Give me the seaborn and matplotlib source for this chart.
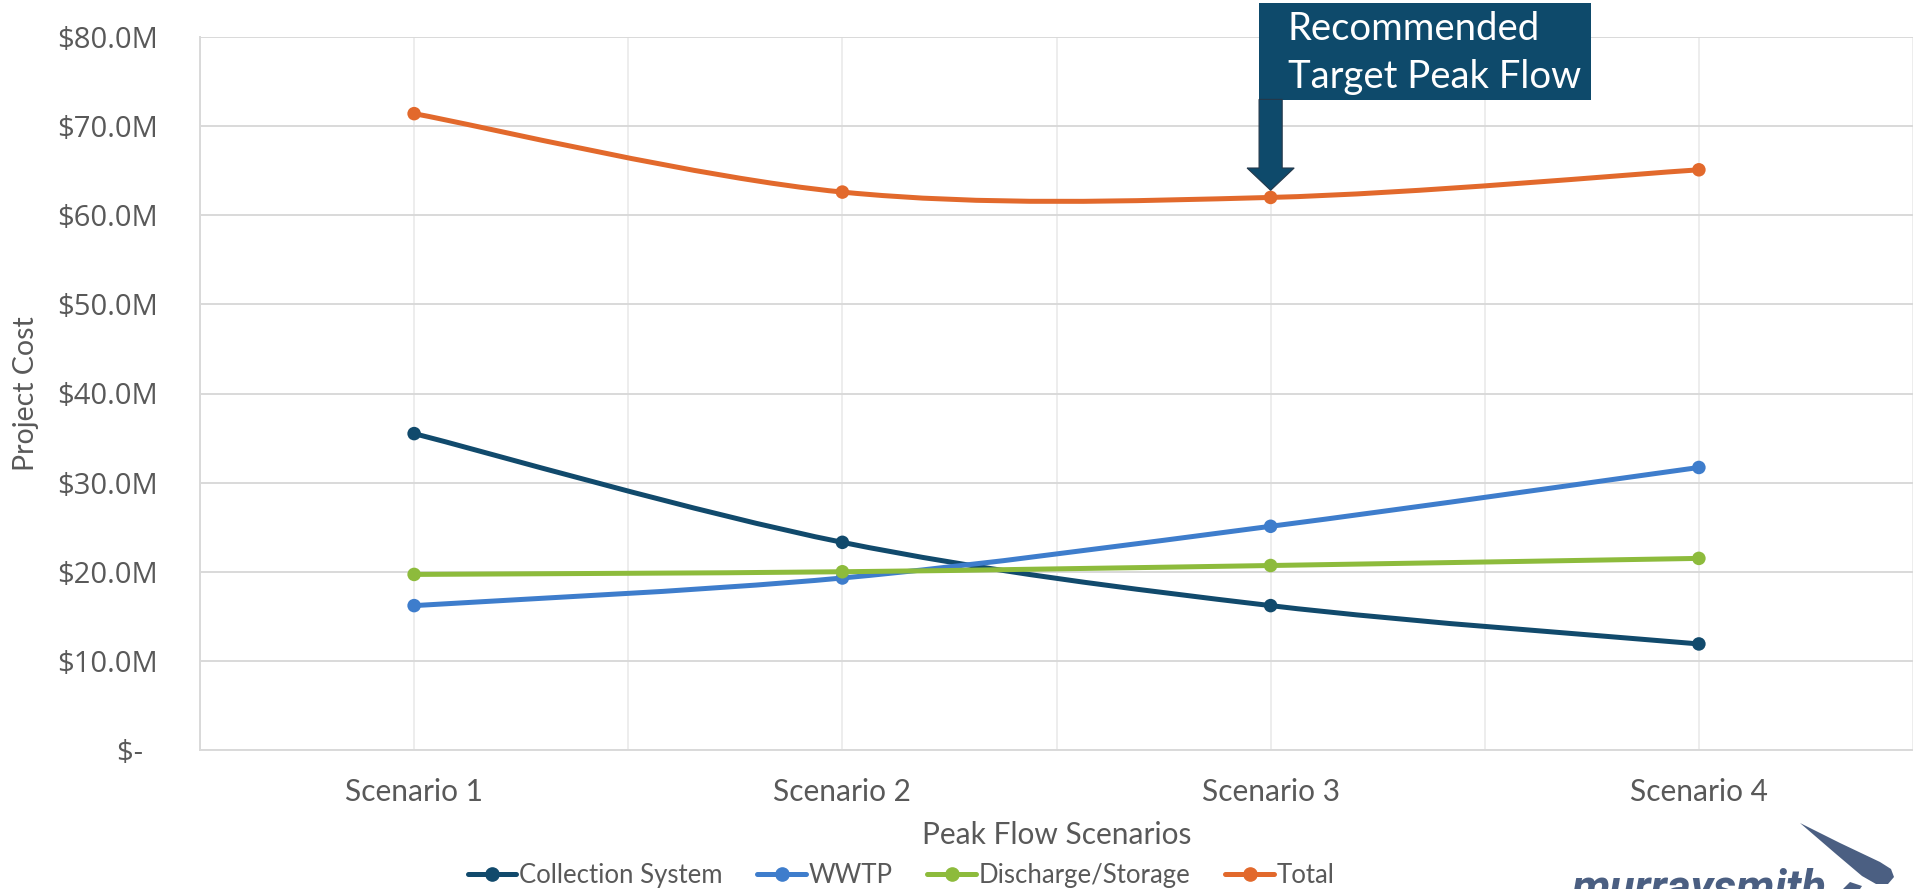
"""Project cost by peak flow scenario, Excel-style smoothed lines."""

import matplotlib

matplotlib.use("Agg")
import matplotlib.pyplot as plt
import numpy as np
import pandas as pd
import seaborn as sns
from matplotlib.lines import Line2D
from matplotlib.patches import FancyArrow, PathPatch, Polygon, Rectangle
from matplotlib.path import Path
from matplotlib.ticker import FixedLocator, FuncFormatter, MultipleLocator

scenarios = ["Scenario 1", "Scenario 2", "Scenario 3", "Scenario 4"]
collection_system = [35.5, 23.3, 16.2, 11.9]
wwtp = [16.2, 19.3, 25.1, 31.7]
discharge_storage = [19.7, 20.0, 20.7, 21.5]
total = [71.4, 62.6, 62.0, 65.1]

series_names = ["Collection System", "WWTP", "Discharge/Storage", "Total"]
series_values = [collection_system, wwtp, discharge_storage, total]
colors = {
    "Collection System": "#114A6C",
    "WWTP": "#3E7DCC",
    "Discharge/Storage": "#8DBB3C",
    "Total": "#E2692C",
}
y_ticks = [0, 10, 20, 30, 40, 50, 60, 70, 80]
recommended = "Scenario 3"

GRAY_TEXT = "#595959"
NAVY = "#0E4A6B"
LOGO = "#4B5F82"


def smooth_path(xs, ys):
    """Bezier path through the points, like Excel's smoothed line."""
    pts = np.column_stack([xs, ys]).astype(float)
    padded = np.vstack([pts[0], pts, pts[-1]])
    verts = [pts[0]]
    codes = [Path.MOVETO]
    for i in range(len(pts) - 1):
        p0, p1, p2, p3 = padded[i], padded[i + 1], padded[i + 2], padded[i + 3]
        verts += [p1 + (p2 - p0) / 6.0, p2 - (p3 - p1) / 6.0, p2]
        codes += [Path.CURVE4] * 3
    return Path(verts, codes)


def px_poly(points, fig):
    # pixel coords (top-left origin) -> figure fraction
    return Polygon(
        [(x / 1913, 1 - y / 889) for x, y in points], closed=True,
        facecolor=LOGO, edgecolor="none", transform=fig.transFigure,
    )


def main() -> None:
    rows = []
    for name, vals in zip(series_names, series_values):
        for i, v in enumerate(vals):
            rows.append({"series": name, "pos": i + 1, "value": v})
    df = pd.DataFrame(rows)

    sns.set_theme(style="white")
    plt.rcParams["font.family"] = ["Lato", "DejaVu Sans"]

    fig = plt.figure(figsize=(19.13, 8.89), dpi=100)
    ax = fig.add_axes([200 / 1913, 1 - 750 / 889, 1 - 200 / 1913, (750 - 37) / 889])

    for name in series_names:
        sub = df[df["series"] == name]
        patch = PathPatch(
            smooth_path(sub["pos"], sub["value"]),
            fill=False,
            edgecolor=colors[name],
            lw=3.6,
            capstyle="round",
            joinstyle="round",
            zorder=3,
        )
        ax.add_patch(patch)

    sns.scatterplot(
        data=df,
        x="pos",
        y="value",
        hue="series",
        palette=colors,
        s=95,
        edgecolor="none",
        legend=False,
        zorder=4,
        ax=ax,
    )

    ax.set_xlim(0.5, 4.5)
    ax.set_ylim(0, 80)
    ax.xaxis.set_major_locator(FixedLocator(range(1, len(scenarios) + 1)))
    ax.xaxis.set_minor_locator(MultipleLocator(0.5))
    ax.set_xticklabels(scenarios)
    ax.yaxis.set_major_locator(FixedLocator(y_ticks))
    ax.yaxis.set_major_formatter(
        FuncFormatter(lambda v, _: "$-  " if v == 0 else f"${v:.1f}M")
    )
    ax.grid(axis="y", which="major", color="#D9D9D9", lw=1.4)
    ax.grid(axis="x", which="both", color="#EDEDED", lw=1.4)
    ax.set_axisbelow(True)
    ax.tick_params(axis="both", which="both", length=0)
    ax.tick_params(axis="x", pad=20, labelsize=21.5, labelcolor=GRAY_TEXT)
    ax.tick_params(axis="y", pad=30, labelsize=21, labelcolor=GRAY_TEXT)
    for lab in ax.get_yticklabels():
        lab.set_fontfamily(["Open Sans", "DejaVu Sans"])

    for side in ["top", "right"]:
        ax.spines[side].set_visible(False)
    for side in ["left", "bottom"]:
        ax.spines[side].set_color("#D9D9D9")
        ax.spines[side].set_linewidth(1.4)

    ax.set_xlabel("Peak Flow Scenarios", fontsize=21.5, color=GRAY_TEXT, labelpad=11)
    ax.set_ylabel("Project Cost", fontsize=20.5, color=GRAY_TEXT)
    ax.yaxis.set_label_coords(-0.094, 0.5)

    # callout box and arrow pointing at the recommended scenario
    x_rec = scenarios.index(recommended) + 1
    y_rec = total[scenarios.index(recommended)]
    ax.add_patch(
        Rectangle(
            (x_rec - 0.028, 72.9), 0.775, 10.9,
            facecolor=NAVY, edgecolor="none", clip_on=False, zorder=5,
        )
    )
    ax.add_patch(
        FancyArrow(
            x_rec, 73.0, 0, y_rec + 0.8 - 73.0,
            width=0.054, head_width=0.11, head_length=2.5,
            length_includes_head=True, facecolor=NAVY, edgecolor="#24384A",
            lw=0.8, clip_on=False, zorder=5,
        )
    )
    ax.text(
        x_rec + 0.04, 82.9, "Recommended\nTarget Peak Flow",
        fontsize=27.5, color="white", ha="left", va="top",
        linespacing=1.42, zorder=6,
    )

    handles = [
        Line2D([], [], color=colors[n], lw=3.6, marker="o", ms=9.5) for n in series_names
    ]
    fig.legend(
        handles, series_names, loc="center", bbox_to_anchor=(0.471, 0.015),
        ncol=4, frameon=False, fontsize=18.5, labelcolor=GRAY_TEXT,
        handlelength=1.9, handletextpad=0.1, columnspacing=1.35,
    )

    # logo fragment at the bottom right
    fig.text(
        1572 / 1913, -0.014, "murraysmith", fontsize=33, fontweight="bold",
        fontstyle="italic", color=LOGO, family=["Roboto", "DejaVu Sans"],
    )
    fig.patches.append(px_poly(
        [(1800, 823), (1840, 843), (1880, 862), (1891, 869), (1894, 877),
         (1888, 884), (1876, 884), (1862, 876), (1836, 854)], fig))
    fig.patches.append(px_poly([(1843, 889), (1850, 882), (1862, 886), (1860, 889)], fig))

    fig.savefig("out.png", dpi=100)
    plt.close(fig)


if __name__ == "__main__":
    main()
